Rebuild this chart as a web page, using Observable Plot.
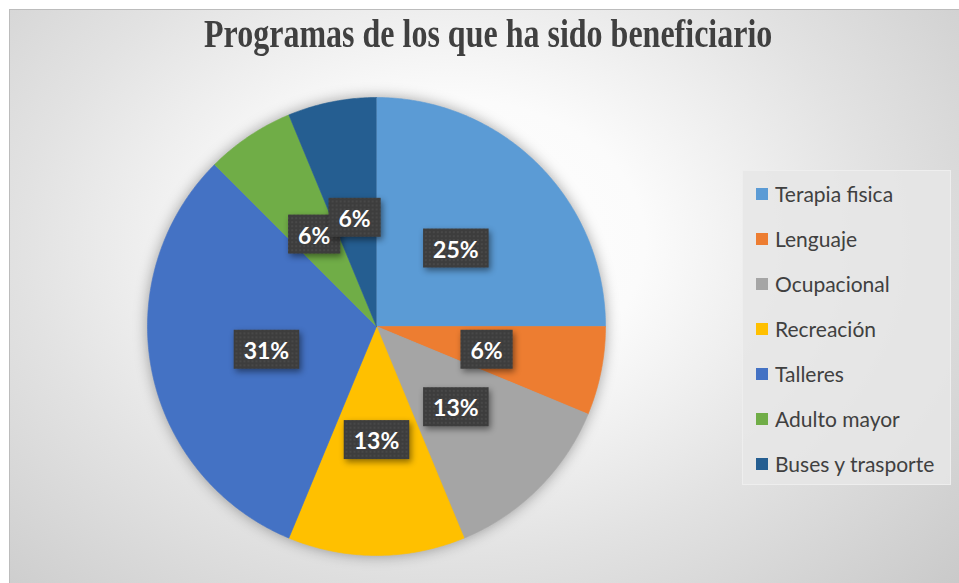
<!DOCTYPE html>
<html><head><meta charset="utf-8">
<script src="https://cdn.jsdelivr.net/npm/d3@7"></script>
<script src="https://cdn.jsdelivr.net/npm/@observablehq/plot@0.6"></script>
<style>
html,body{margin:0;padding:0;background:#fff;}
#wrap{position:relative;width:959px;height:583px;overflow:hidden;background:#fff;}
#bg{position:absolute;left:9px;top:9px;width:960px;height:580px;
  background:radial-gradient(ellipse 72% 88% at 46% 40%, #ffffff 0%, #fbfbfb 28%, #e2e2e2 62%, #c9c9c9 100%);
  border-left:1px solid #bcbcbc;border-top:1px solid #bcbcbc;}
#title{position:absolute;left:9px;width:959px;top:10px;text-align:center;}
#title span{display:inline-block;font-family:"Liberation Serif","Times New Roman",serif;font-weight:bold;font-size:40px;color:#404040;transform:scaleX(0.8);white-space:nowrap;}
#chart{position:absolute;left:0;top:0;}
#legend{position:absolute;left:742px;top:170px;width:209px;height:315px;background:rgba(230,230,230,0.85);border:1px solid #eeeeee;box-sizing:border-box;}
#legend .item{height:45px;display:flex;align-items:center;font-family:Lato,"Open Sans",sans-serif;font-size:21px;color:#404040;white-space:nowrap;}
#legend .sw{display:inline-block;width:12px;height:12px;margin-left:13px;margin-right:7px;}
</style>
</head><body>
<div id="wrap">
  <div id="bg"></div>
  <div id="title"><span>Programas de los que ha sido beneficiario</span></div>
  <div id="chart"></div>
  <div id="legend"></div>
</div>
<script>
const categories = ["Terapia fisica","Lenguaje","Ocupacional","Recreación","Talleres","Adulto mayor","Buses y trasporte"];
const counts = [4, 1, 2, 2, 5, 1, 1];
const percentLabels = ["25%","6%","13%","13%","31%","6%","6%"];
const colors = ["#5B9BD5","#ED7D31","#A5A5A5","#FFC000","#4472C4","#70AD47","#255E91"];

const arcs = d3.pie().sort(null).value(d => d)(counts);

// slice polygons (unit circle, clockwise from 12 o'clock)
const slicePts = [];
arcs.forEach((a, i) => {
  const cat = categories[i];
  slicePts.push({cat, x: 0, y: 0});
  const n = Math.max(8, Math.ceil((a.endAngle - a.startAngle) / 0.01));
  for (let k = 0; k <= n; k++) {
    const t = a.startAngle + (a.endAngle - a.startAngle) * k / n;
    slicePts.push({cat, x: Math.sin(t), y: Math.cos(t)});
  }
});
const labelPts = arcs.map((a, i) => {
  const m = (a.startAngle + a.endAngle) / 2;
  return {cat: categories[i], label: percentLabels[i], x: 0.49 * Math.sin(m), y: 0.49 * Math.cos(m)};
});

const svg = Plot.plot({
  width: 959,
  height: 583,
  margin: 0,
  style: {background: "transparent", overflow: "visible"},
  x: {domain: [-1, 1], range: [147, 605], axis: null},
  y: {domain: [-1, 1], range: [555, 97], axis: null},
  color: {domain: categories, range: colors},
  marks: [
    Plot.line(slicePts, {x: "x", y: "y", z: "cat", fill: "cat", stroke: "cat", strokeWidth: 0.6}),
    Plot.text(labelPts, {x: "x", y: "y", dy: 3, text: "label", fill: "white", fontSize: 23, fontWeight: "bold", fontFamily: "Lato, 'Open Sans', sans-serif"})
  ]
});
document.getElementById("chart").appendChild(svg);

const s = d3.select(svg);
const defs = s.insert("defs", ":first-child");
const pat = defs.append("pattern").attr("id", "dots").attr("width", 4).attr("height", 4).attr("patternUnits", "userSpaceOnUse");
pat.append("rect").attr("width", 4).attr("height", 4).attr("fill", "#3d3d3d");
pat.append("circle").attr("cx", 2).attr("cy", 2).attr("r", 0.8).attr("fill", "#555555");

s.select('g[aria-label="line"]').style("filter", "drop-shadow(0 0 7px rgba(0,0,0,0.35))");
s.selectAll('g[aria-label="text"] text').each(function() {
  const b = this.getBBox();
  const r = document.createElementNS("http://www.w3.org/2000/svg", "rect");
  r.setAttribute("x", b.x - 10);
  r.setAttribute("y", b.y - 6);
  r.setAttribute("width", b.width + 20);
  r.setAttribute("height", b.height + 11);
  const tr = this.getAttribute("transform");
  if (tr) r.setAttribute("transform", tr);
  r.setAttribute("fill", "url(#dots)");
  r.setAttribute("style", "filter: drop-shadow(2px 3px 3px rgba(0,0,0,0.45))");
  this.parentNode.insertBefore(r, this);
});

const legend = d3.select("#legend");
categories.forEach((c, i) => {
  const row = legend.append("div").attr("class", "item");
  row.append("span").attr("class", "sw").style("background", colors[i]);
  row.append("span").text(c);
});
</script>
</body></html>
